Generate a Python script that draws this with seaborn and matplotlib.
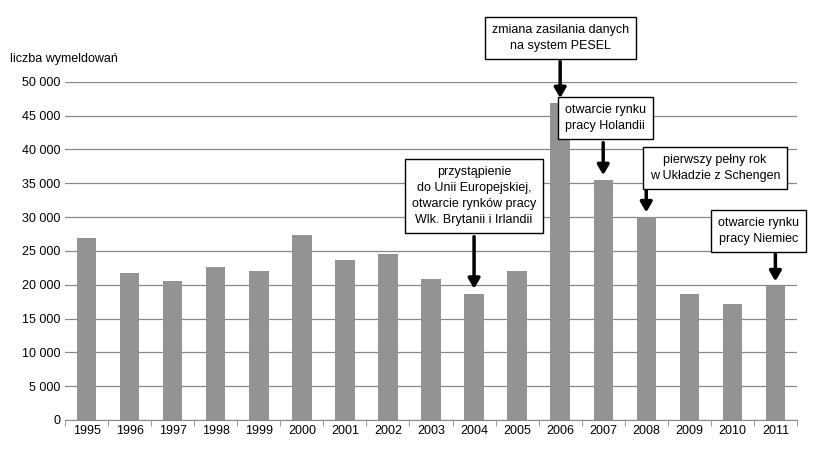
import matplotlib.pyplot as plt
import seaborn as sns
import pandas as pd

years = [str(y) for y in range(1995, 2012)]
values = [26900, 21700, 20600, 22600, 22000, 27300, 23600, 24500, 20800,
          18700, 22100, 46900, 35500, 30000, 18600, 17200, 19800]

# annotations: (bar index, text x, text y, box bottom y, label)
notes = [
    (9, 9, 33100, 27100, "przystąpienie\ndo Unii Europejskiej,\notwarcie rynków pracy\nWlk. Brytanii i Irlandii"),
    (11, 11, 56500, 53000, "zmiana zasilania danych\nna system PESEL"),
    (12, 12.05, 44600, 41000, "otwarcie rynku\npracy Holandii"),
    (13, 14.6, 37300, 34000, "pierwszy pełny rok\nw Układzie z Schengen"),
    (16, 15.6, 28000, 24600, "otwarcie rynku\npracy Niemiec"),
]

df = pd.DataFrame({"rok": years, "liczba": values})

plt.rcParams["font.family"] = "Liberation Sans"
fig = plt.figure(figsize=(8.14, 4.57), dpi=100)
ax = fig.add_axes([0.08, 0.081, 0.899, 0.74])
sns.barplot(data=df, x="rok", y="liczba", color="#939393", width=0.45,
            saturation=1, ax=ax, zorder=2)
ax.set_ylim(0, 50000)
ax.set_xlim(-0.5, 16.5)
ax.set_yticks(range(0, 50001, 5000))
ax.set_yticklabels([f"{v:,}".replace(",", " ") for v in range(0, 50001, 5000)], fontsize=9)
ax.tick_params(axis="x", labelsize=9, length=4)
ax.tick_params(axis="y", length=0)
ax.set_xticks([i - 0.5 for i in range(18)], minor=True)
ax.tick_params(axis="x", which="major", length=0)
ax.tick_params(axis="x", which="minor", length=4, color="#888888")
ax.grid(axis="y", color="#888888", linewidth=0.9, zorder=0)
ax.set_axisbelow(True)
for s in ["top", "right", "left"]:
    ax.spines[s].set_visible(False)
ax.spines["bottom"].set_color("#888888")
ax.set_xlabel("")
ax.set_ylabel("")
fig.text(0.012, 0.865, "liczba wymeldowań", fontsize=9)

for i, tx, ty, yb, label in notes:
    ax.text(tx, ty, label, ha="center", va="center", fontsize=9, linespacing=1.45,
            clip_on=False, zorder=5,
            bbox=dict(boxstyle="square,pad=0.55", fc="white", ec="black", lw=1))
    ax.annotate("", xy=(i, values[i] + 700), xytext=(i, yb),
                annotation_clip=False,
                arrowprops=dict(arrowstyle="-|>,head_width=0.35,head_length=0.6",
                                color="black", lw=2.5, shrinkA=0, shrinkB=0))

fig.savefig("out.png", dpi=100)
